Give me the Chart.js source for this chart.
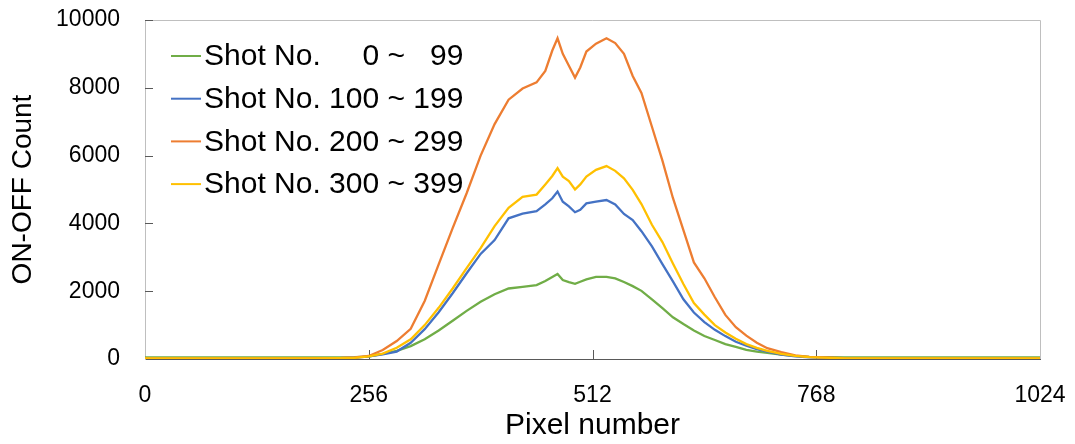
<!DOCTYPE html>
<html>
<head>
<meta charset="utf-8">
<script src="https://cdn.jsdelivr.net/npm/chart.js@4/dist/chart.umd.min.js"></script>
<style>
  html, body { margin: 0; padding: 0; background: #fff; }
  canvas { display: block; }
</style>
</head>
<body>
<canvas id="chart" width="1075" height="444"></canvas>
<script>
'use strict';

// pixel positions the curves were read at
const PIXELS = [0, 64, 128, 192, 224, 240, 256, 272, 288, 304, 320, 336, 352, 368, 384, 400, 416, 432, 448, 458,
  466, 472, 478, 485, 492, 498, 505, 516, 528, 538, 548, 558, 568, 580, 592, 604, 616, 628, 640, 652,
  664, 676, 688, 700, 712, 728, 744, 760, 800, 880, 960, 1024];

const SHOT_0_99 = [50, 45, 50, 45, 50, 55, 70, 150, 240, 380, 580, 840, 1130, 1420, 1690, 1910, 2080, 2130, 2180, 2300,
  2420, 2510, 2330, 2270, 2220, 2280, 2350, 2420, 2420, 2380, 2270, 2150, 2010, 1760, 1500, 1230, 1030, 840, 680, 560,
  440, 360, 270, 220, 180, 130, 90, 65, 50, 45, 50, 45];

const SHOT_100_199 = [15, 15, 15, 20, 25, 35, 80, 140, 220, 480, 880, 1380, 1940, 2530, 3100, 3510, 4150, 4290, 4360, 4560,
  4740, 4940, 4640, 4500, 4330, 4400, 4590, 4640, 4690, 4560, 4280, 4100, 3770, 3320, 2800, 2290, 1760, 1370, 1090, 860,
  675, 510, 390, 290, 215, 128, 80, 50, 20, 15, 15, 15];

const SHOT_200_299 = [20, 20, 20, 25, 30, 45, 90, 265, 530, 890, 1710, 2790, 3860, 4890, 6000, 6930, 7650, 7980, 8160, 8500,
  9100, 9460, 9000, 8650, 8300, 8600, 9070, 9300, 9460, 9320, 9000, 8350, 7850, 6850, 5850, 4750, 3800, 2850, 2380, 1820,
  1300, 940, 690, 480, 320, 200, 110, 60, 25, 20, 20, 20];

const SHOT_300_399 = [15, 15, 15, 20, 25, 35, 80, 160, 330, 580, 1000, 1510, 2080, 2680, 3270, 3920, 4460, 4780, 4850, 5150,
  5400, 5630, 5380, 5250, 5000, 5150, 5380, 5580, 5690, 5550, 5330, 4990, 4570, 3960, 3450, 2820, 2210, 1650, 1310, 1000,
  780, 595, 440, 330, 240, 150, 90, 55, 20, 15, 15, 15];

const LABELS = ['Shot No.     0 ~   99', 'Shot No. 100 ~ 199', 'Shot No. 200 ~ 299', 'Shot No. 300 ~ 399'];
const COLORS = ['#70ad47', '#4472c4', '#ed7d31', '#ffc000'];
const X_TICKS = [0, 256, 512, 768, 1024];

const FONT = "'Liberation Sans', Arial, sans-serif";
Chart.defaults.font.family = FONT;
Chart.defaults.color = '#000';

const series = [SHOT_0_99, SHOT_100_199, SHOT_200_299, SHOT_300_399];

// keep the plot box where it is in the original (no auto padding for labels)
function noPad(s) {
  s.paddingLeft = 0; s.paddingRight = 0; s.paddingTop = 0; s.paddingBottom = 0;
}

// frame on top/right + short inward tick marks
const framePlugin = {
  id: 'frame',
  beforeDatasetsDraw(chart) {
    const { ctx, chartArea: a, scales: { x, y } } = chart;
    ctx.save();
    ctx.lineWidth = 1;
    ctx.strokeStyle = '#bfbfbf';
    ctx.beginPath();
    ctx.moveTo(a.left, a.top + 0.5);
    ctx.lineTo(a.right + 0.5, a.top + 0.5);
    ctx.lineTo(a.right + 0.5, a.bottom);
    ctx.stroke();
    ctx.strokeStyle = '#595959';
    ctx.beginPath();
    x.ticks.forEach(t => {
      if (t.value === 0 || t.value === 1024) return;
      const px = Math.round(x.getPixelForValue(t.value)) + 0.5;
      ctx.moveTo(px, a.bottom);
      ctx.lineTo(px, a.bottom - 9);
    });
    y.ticks.forEach(t => {
      if (t.value === 0) return;
      const py = Math.round(y.getPixelForValue(t.value)) + 0.5;
      ctx.moveTo(a.left, py);
      ctx.lineTo(a.left + 8, py);
    });
    ctx.stroke();
    ctx.restore();
  }
};

// legend drawn inside the plot area
const legendPlugin = {
  id: 'insideLegend',
  afterDatasetsDraw(chart) {
    const { ctx } = chart;
    ctx.save();
    ctx.font = '30px ' + FONT;
    ctx.textBaseline = 'middle';
    ctx.fillStyle = '#000';
    chart.data.datasets.forEach((ds, i) => {
      const yy = 56 + i * 42.7;
      ctx.strokeStyle = ds.borderColor;
      ctx.lineWidth = 2;
      ctx.beginPath();
      ctx.moveTo(171, yy);
      ctx.lineTo(201, yy);
      ctx.stroke();
      ctx.fillText(ds.label, 204, yy + 1);
    });
    ctx.restore();
  }
};

new Chart(document.getElementById('chart'), {
  type: 'line',
  data: {
    datasets: series.map((vals, i) => ({
      label: LABELS[i],
      data: PIXELS.map((p, j) => ({ x: p, y: vals[j] })),
      borderColor: COLORS[i],
      backgroundColor: COLORS[i],
      borderWidth: 2.3,
      pointRadius: 0,
      tension: 0,
      fill: false,
      order: 4 - i,
    })),
  },
  options: {
    responsive: false,
    animation: false,
    devicePixelRatio: 1,
    layout: { padding: { top: 20, right: 35, bottom: 0, left: 0 } },
    plugins: {
      legend: { display: false },
      tooltip: { enabled: false },
    },
    scales: {
      x: {
        type: 'linear',
        min: 0,
        max: 1024,
        afterBuildTicks: s => { s.ticks = X_TICKS.map(v => ({ value: v })); },
        afterFit: s => { s.height = 85; noPad(s); },
        grid: { display: false, drawTicks: false },
        border: { display: true, color: '#595959', width: 1 },
        ticks: { font: { size: 23 }, padding: 23, maxRotation: 0, autoSkip: false, callback: v => String(v) },
        title: { display: true, text: 'Pixel number', font: { size: 30 }, padding: { top: 0, bottom: 0 } },
      },
      y: {
        min: 0,
        max: 10000,
        afterFit: s => { s.width = 145; noPad(s); },
        grid: { display: false, drawTicks: false },
        border: { display: true, color: '#bfbfbf', width: 1 },
        ticks: { stepSize: 2000, font: { size: 23 }, padding: 25, callback: v => String(v) },
        title: { display: true, text: 'ON-OFF Count', font: { size: 28 }, padding: { top: 6, bottom: 0 } },
      },
    },
  },
  plugins: [framePlugin, legendPlugin],
});
</script>
</body>
</html>
